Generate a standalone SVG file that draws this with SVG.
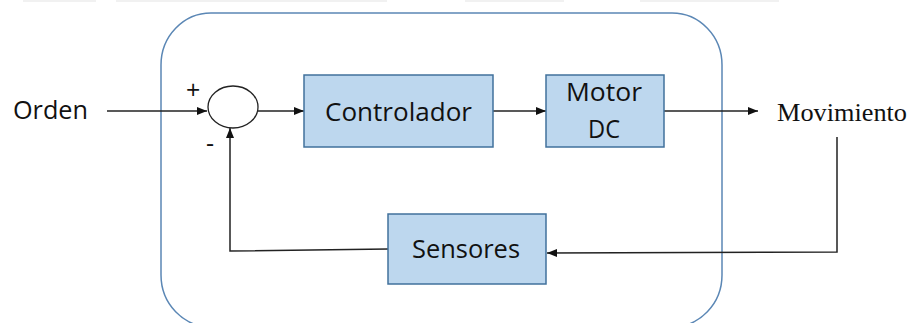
<svg xmlns="http://www.w3.org/2000/svg" width="912" height="323" viewBox="0 0 912 323">
<defs>
<style>
.box{fill:#bdd7ee;stroke:#41719c;stroke-width:1.5}
.ln{fill:none;stroke:#222;stroke-width:1.5}
.t{font-family:"Open Sans","Noto Sans",sans-serif;font-size:25px;fill:#111}
.ts{font-family:"Liberation Serif",serif;font-size:26px;fill:#111}
.art{fill:#f1f1f1}
</style>
<marker id="ah" viewBox="0 0 10 10" refX="10" refY="5" markerWidth="10" markerHeight="10" markerUnits="userSpaceOnUse" orient="auto">
<path d="M0,1 L10,5 L0,9 Z" fill="#111"/>
</marker>
</defs>
<rect width="912" height="323" fill="#fff"/>
<g id="artifacts">
<rect class="art" x="23" y="0" width="73" height="2"/>
<rect class="art" x="116" y="0" width="271" height="2"/>
<rect class="art" x="465" y="0" width="99" height="2"/>
<rect class="art" x="640" y="0" width="139" height="2"/>
</g>
<g id="frame">
<rect x="161" y="13" width="561" height="314" rx="50" ry="52" fill="none" stroke="#5b87b5" stroke-width="1.5"/>
</g>
<g id="connectors">
<line class="ln" x1="107" y1="111" x2="207" y2="111" marker-end="url(#ah)"/>
<line class="ln" x1="258" y1="111" x2="304" y2="111" marker-end="url(#ah)"/>
<line class="ln" x1="493" y1="111" x2="546" y2="111" marker-end="url(#ah)"/>
<line class="ln" x1="664" y1="111" x2="758" y2="111" marker-end="url(#ah)"/>
<polyline class="ln" points="837,137 837,252 547,253" marker-end="url(#ah)"/>
<polyline class="ln" points="388,249 230,251 230,128" marker-end="url(#ah)"/>
</g>
<g id="orden">
<text class="t" x="13" y="119" font-size="24" textLength="75" lengthAdjust="spacingAndGlyphs">Orden</text>
</g>
<g id="sumador">
<ellipse cx="233" cy="107" rx="25" ry="21" fill="#fff" stroke="#222" stroke-width="1.3"/>
<text class="t" x="186" y="99" font-size="20">+</text>
<text class="t" x="206" y="152" font-size="20">-</text>
</g>
<g id="controlador">
<rect class="box" x="304" y="75" width="189" height="72"/>
<text class="t" x="325" y="121" textLength="147" lengthAdjust="spacingAndGlyphs">Controlador</text>
</g>
<g id="motor">
<rect class="box" x="546" y="75" width="118" height="72"/>
<text class="t" x="566" y="101" textLength="76" lengthAdjust="spacingAndGlyphs">Motor</text>
<text class="t" x="588" y="138" textLength="32" lengthAdjust="spacingAndGlyphs">DC</text>
</g>
<g id="movimiento">
<text class="ts" x="777" y="121" textLength="130" lengthAdjust="spacingAndGlyphs">Movimiento</text>
</g>
<g id="sensores">
<rect class="box" x="388" y="214" width="158" height="70"/>
<text class="t" x="412" y="258" textLength="108" lengthAdjust="spacingAndGlyphs">Sensores</text>
</g>
</svg>
